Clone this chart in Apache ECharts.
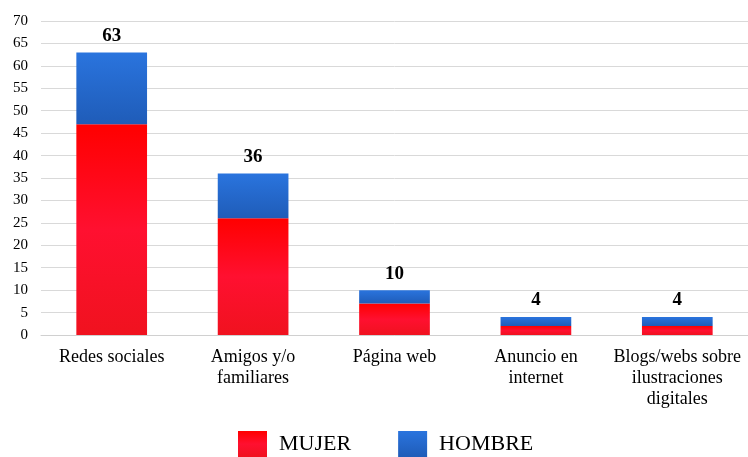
<!DOCTYPE html>
<html><head><meta charset="utf-8">
<script src="https://cdn.jsdelivr.net/npm/echarts@6/dist/echarts.min.js"></script>
<style>html,body{margin:0;padding:0;background:#fff}#c{width:748px;height:457px}</style>
</head><body><div id="c"></div>
<script>
var categories = ['Redes sociales', 'Amigos y/o\nfamiliares', 'Página web', 'Anuncio en\ninternet', 'Blogs/webs sobre\nilustraciones\ndigitales'];
var mujer = [47, 26, 7, 2, 2];
var hombre = [16, 10, 3, 2, 2];
var totals = [63, 36, 10, 4, 4];
var yTicks = {min: 0, max: 70, interval: 5};

var chart = echarts.init(document.getElementById('c'));
var serif = '"Liberation Serif", "Times New Roman", serif';
chart.setOption({
  animation: false,
  grid: {left: 41, right: 0, top: 21, bottom: 122},
  xAxis: {
    type: 'category', data: categories,
    axisLine: {lineStyle: {color: '#d0d0d0', width: 1}},
    axisTick: {show: false},
    axisLabel: {color: '#000', fontFamily: serif, fontSize: 18, lineHeight: 21, margin: 12, interval: 0}
  },
  yAxis: {
    type: 'value', min: yTicks.min, max: yTicks.max, interval: yTicks.interval,
    axisLine: {show: false}, axisTick: {show: false},
    splitLine: {lineStyle: {color: '#d9d9d9', width: 1}},
    axisLabel: {color: '#000', fontFamily: serif, fontSize: 15, margin: 13}
  },
  legend: {
    top: 431, left: 238, padding: 0, itemWidth: 29, itemHeight: 26, itemGap: 47,
    icon: 'rect',
    textStyle: {color: '#000', fontFamily: serif, fontSize: 22, padding: [5, 0, 0, 7]},
    data: ['MUJER', 'HOMBRE']
  },
  series: [
    {
      name: 'MUJER', type: 'bar', stack: 't', data: mujer, barWidth: '50%',
      itemStyle: {color: new echarts.graphic.LinearGradient(0, 0, 0, 1, [
        {offset: 0, color: '#ff0000'}, {offset: 0.5, color: '#ff1030'}, {offset: 1, color: '#f0121f'}
      ])}
    },
    {
      name: 'HOMBRE', type: 'bar', stack: 't', data: hombre, barWidth: '50%',
      itemStyle: {color: new echarts.graphic.LinearGradient(0, 0, 0, 1, [
        {offset: 0, color: '#2a74de'}, {offset: 1, color: '#1f5cb8'}
      ])},
      label: {
        show: true, position: 'top', distance: 7, color: '#000',
        fontFamily: serif, fontSize: 19, fontWeight: 'bold',
        formatter: function (p) { return totals[p.dataIndex]; }
      }
    }
  ]
});
</script></body></html>
